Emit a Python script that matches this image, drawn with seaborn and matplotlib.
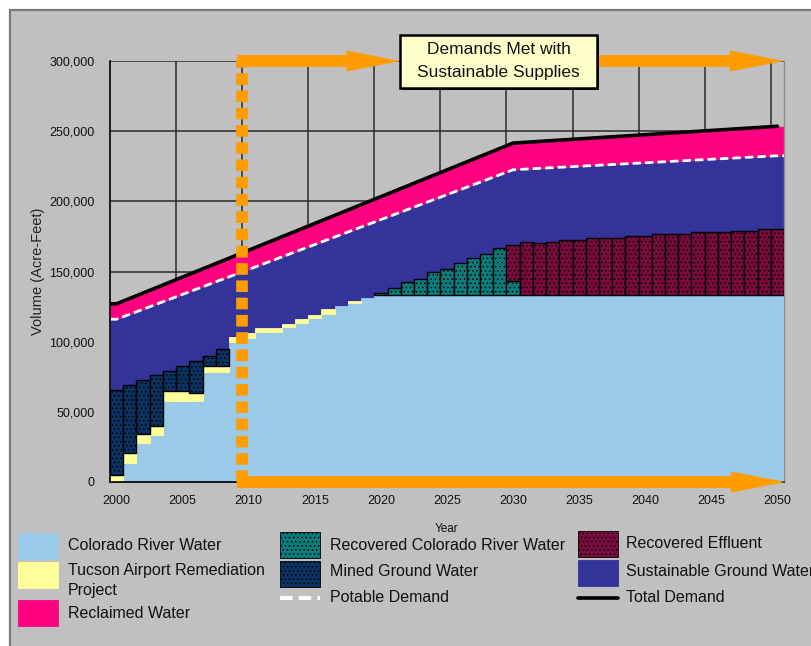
import numpy as np
import pandas as pd
import matplotlib
matplotlib.use("Agg")
import matplotlib.pyplot as plt
import seaborn as sns
from matplotlib.patches import Rectangle, FancyArrow
from matplotlib.lines import Line2D

# ---------------- data (thousand acre-feet) ----------------
years = list(range(2000, 2051))

colorado_river = [0, 13.5, 27.5, 33.5, 58, 58, 57.5, 78.5, 78.5, 100,
                  102.5, 107, 107, 110.5, 113.5, 117, 120, 125.5, 127.5, 131,
                  133.5, 133.5, 133.5, 133.5, 133.5, 133.5, 133.5, 133.5, 133.5, 133.5,
                  133.5, 133.5, 133.5, 133.5, 133.5, 133.5, 133.5, 133.5, 133.5, 133.5,
                  133.5, 133.5, 133.5, 133.5, 133.5, 133.5, 133.5, 133.5, 133.5, 133.5,
                  133.5]
tucson_airport = [5, 7, 7, 6.5, 6.5, 6.5, 6, 4, 4, 3,
                  4, 2.5, 2.5, 2.3, 2.4, 2, 3, 0, 1.6, 0,
                  0, 0, 0, 0, 0, 0, 0, 0, 0, 0,
                  0, 0, 0, 0, 0, 0, 0, 0, 0, 0,
                  0, 0, 0, 0, 0, 0, 0, 0, 0, 0,
                  0]
mined_ground = [60.4, 48.5, 38, 36, 14.5, 18.5, 22.5, 7, 12, 0,
                0, 0, 0, 0, 0, 0, 0, 0, 0, 0,
                0, 0, 0, 0, 0, 0, 0, 0, 0, 0,
                0, 0, 0, 0, 0, 0, 0, 0, 0, 0,
                0, 0, 0, 0, 0, 0, 0, 0, 0, 0,
                0]
recovered_crw = [0, 0, 0, 0, 0, 0, 0, 0, 0, 0,
                 0, 0, 0, 0, 0, 0, 0, 0, 0, 0,
                 1.5, 4.8, 9, 11.5, 16, 18.5, 22.5, 26, 29, 33,
                 9.5, 0, 0, 0, 0, 0, 0, 0, 0, 0,
                 0, 0, 0, 0, 0, 0, 0, 0, 0, 0,
                 0]
recovered_effluent = [0, 0, 0, 0, 0, 0, 0, 0, 0, 0,
                      0, 0, 0, 0, 0, 0, 0, 0, 0, 0,
                      0, 0, 0, 0, 0, 0, 0, 0, 0, 0,
                      26.2, 37.3, 37, 37.3, 39, 39, 40.3, 40.3, 40.3, 41.7,
                      41.7, 42.9, 42.9, 42.9, 44.3, 44.3, 44.3, 45.7, 45.7, 47.1,
                      47.1]
demand_years = [2000, 2030, 2050]
potable_demand = [116, 222.5, 232.5]
total_demand = [127, 241.5, 253.5]

x_ticks = [2000, 2005, 2010, 2015, 2020, 2025, 2030, 2035, 2040, 2045, 2050]
y_ticks = [0, 50000, 100000, 150000, 200000, 250000, 300000]

# ---------------- style ----------------
sns.set_style("white")
plt.rcParams["font.family"] = ["Liberation Sans", "DejaVu Sans"]
plt.rcParams["hatch.linewidth"] = 0.6
plt.rcParams["hatch.color"] = "black"

W, H = 812, 646
fig = plt.figure(figsize=(W / 100, H / 100), dpi=100, facecolor="white")

C_CRW = "#9bcae8"
C_TUC = "#ffff99"
C_REC = "#ff0080"
C_SUS = "#333399"
C_MIN = "#0a3363"
C_RCRW = "#0b7d7d"
C_EFF = "#7a0a40"
C_BG = "#c0c0c0"
C_OR = "#ff9c00"

# background panel + legend (pixel coordinates)
bg = fig.add_axes([0, 0, 1, 1], zorder=0)
bg.set_xlim(0, W)
bg.set_ylim(H, 0)
bg.axis("off")
bg.add_patch(Rectangle((10, 10), W, H, facecolor=C_BG, edgecolor="#7a7a7a", lw=1.6))

# main axes
ax = fig.add_axes([110 / W, 1 - 482 / H, 674 / W, 421 / H], zorder=1)
ax.set_facecolor("none")
K = 1000.0
yrs = np.array(years, dtype=float)

# demand areas (extended to bar edges)
dx = np.r_[1999.5, demand_years, 2050.5]
pot = np.r_[potable_demand[0], potable_demand, potable_demand[-1]] * K
tot = np.r_[total_demand[0], total_demand, total_demand[-1]] * K
ax.fill_between(dx, 0, pot, color=C_SUS, lw=0, zorder=2)
ax.fill_between(dx, pot, tot, color=C_REC, lw=0, zorder=2)

# stacked bars
bottom = np.zeros(len(years))
series = [
    (colorado_river, C_CRW, C_CRW, None, 0.6),
    (tucson_airport, C_TUC, C_TUC, None, 0.6),
    (mined_ground, C_MIN, "black", "....", 1.0),
    (recovered_crw, C_RCRW, "black", "....", 1.0),
    (recovered_effluent, C_EFF, "black", "....", 1.0),
]
for vals, fc, ec, hatch, lw in series:
    v = np.array(vals) * K
    mask = v > 0
    ax.bar(yrs[mask], v[mask], width=1.0, bottom=bottom[mask], color=fc,
           edgecolor=ec, hatch=hatch, linewidth=lw, zorder=3)
    bottom = bottom + v

# demand lines
df_tot = pd.DataFrame({"year": np.r_[1999.5, demand_years], "v": np.r_[total_demand[0], total_demand] * K})
df_pot = pd.DataFrame({"year": dx, "v": pot})
sns.lineplot(data=df_tot, x="year", y="v", ax=ax, color="black", lw=2.6, zorder=5, estimator=None)
sns.lineplot(data=df_pot, x="year", y="v", ax=ax, color="white", lw=2.0, zorder=5,
             estimator=None, dashes=False)
ax.lines[-1].set_dashes((3, 1.5))

# axes setup
ax.set_xlim(1999.5, 2050.5)
ax.set_ylim(0, 300000)
ax.set_xticks(x_ticks)
ax.set_xticklabels([str(t) for t in x_ticks], fontsize=9)
ax.set_xticks(np.arange(1999.5, 2050, 5), minor=True)
ax.tick_params(axis="x", which="major", length=0, pad=9, colors="#111111")
ax.tick_params(axis="x", which="minor", length=3, width=1, direction="out", color="black")
ax.set_yticks(y_ticks)
ax.set_yticklabels([f"{t:,}" for t in y_ticks], fontsize=9, color="#111111")
ax.tick_params(axis="y", length=5, width=1, direction="out", color="black", pad=6)
ax.grid(False)
for yv in y_ticks[1:]:
    ax.axhline(yv, color="#2a2a2a", lw=1.1, zorder=1)
for xv in np.arange(2004.5, 2050, 5):
    ax.axvline(xv, color="#2a2a2a", lw=1.1, zorder=1)
for s in ["left", "bottom"]:
    ax.spines[s].set_color("black")
    ax.spines[s].set_linewidth(1.2)
    ax.spines[s].set_zorder(6)
ax.spines["top"].set_visible(False)
ax.spines["right"].set_color("#8a8a8a")
ax.spines["right"].set_linewidth(1.0)
ax.set_xlabel("Year", fontsize=8.5, labelpad=12, color="#111111")
ax.set_ylabel("Volume (Acre-Feet)", fontsize=10.5, labelpad=3, color="#222222")

# orange annotations
ax.plot([2009.5, 2009.5], [0, 300000], color=C_OR, lw=8.4, dashes=(1.0, 0.48),
        dash_capstyle="butt", zorder=7, clip_on=False)
sw, hw, hl = 8500, 15000, 4.1
ax.add_patch(FancyArrow(2009.1, 0, 41.5, 0, width=sw, head_width=hw, head_length=hl,
                        length_includes_head=True, color=C_OR, lw=0, zorder=7, clip_on=False))
ax.add_patch(FancyArrow(2009.1, 300000, 12.4, 0, width=sw, head_width=hw, head_length=hl,
                        length_includes_head=True, color=C_OR, lw=0, zorder=7, clip_on=False))
ax.add_patch(FancyArrow(2021.5, 300000, 29.0, 0, width=sw, head_width=hw, head_length=hl,
                        length_includes_head=True, color=C_OR, lw=0, zorder=7, clip_on=False))

# text box (pixel coordinates overlay)
ov = fig.add_axes([0, 0, 1, 1], zorder=3)
ov.set_xlim(0, W)
ov.set_ylim(H, 0)
ov.axis("off")
ov.add_patch(Rectangle((402, 37), 197, 53, facecolor="#111111", lw=0))
ov.add_patch(Rectangle((400, 35), 197, 53, facecolor="#ffffcc", edgecolor="black", lw=1.8))
ov.text(498.5, 49, "Demands Met with", ha="center", va="center", fontsize=12.5, color="#111111")
ov.text(498.5, 73, "Sustainable Supplies", ha="center", va="center", fontsize=12.5, color="#111111")

# legend (pixel coordinates)
LFS = 11.5
def swatch(x, y, fc, hatch=None, ec=None):
    bg.add_patch(Rectangle((x, y), 40, 26, facecolor=fc, edgecolor=ec if ec else fc,
                           hatch=hatch, lw=0.6))

def label(x, y, s):
    bg.text(x, y, s, ha="left", va="center", fontsize=LFS, color="#111111")

swatch(18, 533, C_CRW); label(68, 546, "Colorado River Water")
swatch(18, 562, C_TUC); label(68, 571, "Tucson Airport Remediation")
label(68, 591, "Project")
swatch(18, 600, C_REC); label(68, 614, "Reclaimed Water")

swatch(280, 532, C_RCRW, "....", "black"); label(330, 545, "Recovered Colorado River Water")
swatch(280, 561, C_MIN, "....", "black"); label(330, 571, "Mined Ground Water")
bg.add_line(Line2D([280, 320], [598, 598], color="white", lw=3, dashes=(3, 1.5)))
label(330, 598, "Potable Demand")

swatch(578, 531, C_EFF, "....", "black"); label(626, 544, "Recovered Effluent")
swatch(578, 560, C_SUS); label(626, 571, "Sustainable Ground Water")
bg.add_line(Line2D([578, 618], [598, 598], color="black", lw=2.6))
label(626, 598, "Total Demand")

fig.savefig("out.png", dpi=100, facecolor=fig.get_facecolor())
